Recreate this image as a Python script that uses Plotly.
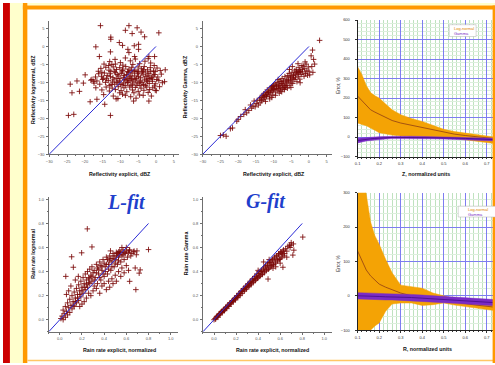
import plotly.graph_objects as go

W, H = 495, 365

# ---------------- data ----------------
# Panel 1: reflectivity explicit (x) vs lognormal fit (y), dBZ
refl_L_pts = [
    (-15.6, 5.8), (-7.6, 5.8), (-5.3, 5.2), (-8.6, 4.5), (-6.7, 3.6), (-4.2, 4.0), (-3.2, 2.7), (0.8, 3.8),
    (-12.7, 2.6), (-12.7, 2.0), (-10.3, 1.1), (-9.4, 0.3), (-7.9, -0.8), (-6.1, 0.2), (-4.9, 0.6), (-4.9, -0.8),
    (-16.9, -0.1), (-12.8, -1.5), (-15.9, -2.8), (-2.0, -2.8), (-6.0, -2.8), (-0.4, -2.8), (-7.6, -1.7),
    (2.6, -6.5), (-19.9, -7.9), (-22.2, -9.6), (-24.1, -10.5), (-20.4, -10.2), (-21.5, -12.5), (-23.6, -12.9),
    (-18.5, -15.4), (-16.6, -14.7), (-14.4, -16.1), (-24.6, -19.2), (-23.1, -18.9), (-12.8, -19.2),
    (-10.7, -14.5), (-6.3, -15.2), (-2.0, -15.2), (-3.6, -13.6), (-0.2, -12.2), (-18.0, -9.2), (-17.5, -9.7),
    (-15.2, -7.2), (-11.4, -4.9), (-13.3, -5.3),
    (-13.0, -4.2), (-11.5, -3.6), (-10.0, -4.5), (-8.6, -3.2), (-7.2, -4.0), (-5.8, -3.5), (-4.6, -4.8),
    (-3.1, -4.1), (-2.2, -3.4), (-12.4, -5.0), (-9.3, -5.2), (-6.5, -5.0), (-1.5, -4.6), (-14.6, -4.9), (-0.5, -5.3),
    (-15.5, -6.1), (-14.1, -5.8), (-13.2, -6.6), (-12.0, -5.7), (-11.1, -6.4), (-10.2, -5.9), (-9.4, -6.7),
    (-8.5, -5.6), (-7.6, -6.3), (-6.8, -5.8), (-5.9, -6.6), (-5.0, -5.7), (-4.1, -6.2), (-3.3, -5.6), (-2.4, -6.5),
    (-1.6, -5.9), (-0.7, -6.8), (0.3, -6.0), (1.2, -6.7), (-16.2, -6.9), (-12.7, -6.9), (-8.0, -7.0), (-3.8, -6.9),
    (-17.0, -8.5), (-16.1, -7.6), (-15.3, -8.3), (-14.5, -7.4), (-13.7, -8.1), (-12.9, -7.6), (-12.1, -8.7),
    (-11.4, -7.3), (-10.6, -8.2), (-9.8, -7.5), (-9.1, -8.6), (-8.3, -7.8), (-7.5, -8.5), (-6.7, -7.4), (-6.0, -8.2),
    (-5.2, -7.6), (-4.4, -8.7), (-3.6, -7.9), (-2.8, -8.4), (-2.0, -7.5), (-1.2, -8.6), (-0.4, -7.8), (0.5, -8.5),
    (1.5, -7.7), (-11.0, -8.9), (-7.9, -8.9), (-4.9, -8.4), (-1.7, -8.9),
    (-18.3, -9.4), (-17.4, -10.2), (-16.6, -9.6), (-15.8, -10.5), (-15.0, -9.2), (-14.2, -10.0), (-13.4, -9.5),
    (-12.6, -10.6), (-11.8, -9.3), (-11.0, -10.1), (-10.3, -9.6), (-9.5, -10.7), (-8.8, -9.2), (-8.0, -10.0),
    (-7.3, -9.5), (-6.6, -10.5), (-5.8, -9.3), (-5.1, -10.2), (-4.3, -9.6), (-3.5, -10.6), (-2.7, -9.4),
    (-1.9, -10.3), (-1.0, -9.7), (-0.2, -10.4), (0.8, -9.5), (1.8, -10.1), (-12.2, -9.9), (-9.1, -10.2),
    (-6.2, -9.9), (-3.9, -10.1), (-13.0, -10.9), (-7.0, -10.9), (2.4, -9.8),
    (-16.9, -11.5), (-15.2, -12.1), (-14.0, -11.3), (-13.1, -12.4), (-12.3, -11.6), (-11.4, -12.0), (-10.6, -11.2),
    (-9.8, -12.3), (-9.0, -11.5), (-8.2, -12.6), (-7.4, -11.3), (-6.6, -12.1), (-5.8, -11.4), (-5.0, -12.5),
    (-4.2, -11.6), (-3.4, -12.2), (-2.6, -11.3), (-1.8, -12.0), (-0.9, -11.5), (0.1, -12.3), (1.0, -11.2),
    (-10.2, -12.9), (-6.2, -12.9), (-2.2, -12.8), (-0.4, -11.0),
    (-14.7, -13.4), (-12.0, -13.8), (-9.4, -13.3), (-7.1, -14.0), (-4.6, -13.5), (-1.3, -13.8), (-11.2, -14.6),
    (-5.6, -14.4), (-8.6, -13.6),
    (-11.7, -6.9), (-10.9, -7.8), (-10.1, -8.9), (-9.6, -7.1), (-8.9, -8.1), (-8.4, -9.4), (-7.7, -7.2),
    (-7.1, -8.2), (-6.5, -9.1), (-6.1, -7.0), (-5.5, -8.9), (-4.9, -7.1), (-4.7, -9.9), (-4.0, -7.4), (-3.2, -9.1),
    (-3.0, -7.1), (-2.4, -9.8), (-2.3, -8.0), (-1.5, -7.0), (-1.1, -9.1), (-10.7, -9.9), (-9.9, -10.6),
    (-8.5, -10.9), (-7.8, -9.9), (-6.9, -9.0), (-5.4, -10.8), (-4.5, -10.9), (-3.0, -10.9), (-11.6, -10.5),
    (-12.8, -8.4), (-13.9, -9.0), (-14.8, -8.8), (-9.3, -6.3), (-7.0, -6.7), (-5.3, -6.9), (-3.5, -6.5),
    (-2.0, -9.0), (-0.8, -8.2), (0.2, -9.2), (-0.2, -7.0),
]

# Panel 2: reflectivity explicit (x) vs Gamma fit (y), dBZ
refl_G_pts = [
    (-25.0, -24.8), (-24.2, -24.6), (-23.4, -25.0), (-22.2, -22.9), (-21.6, -22.7), (-20.4, -20.8), (-20.0, -20.3),
    (-19.3, -19.5), (-18.4, -18.9), (-18.0, -17.6), (-17.6, -18.5), (-17.0, -17.8), (-16.5, -16.3), (-16.2, -17.2),
    (-15.8, -16.6), (-15.5, -15.2), (-15.2, -16.8), (-14.9, -15.9), (-14.6, -15.0), (-14.3, -16.3),
    (-14.0, -14.6), (-13.8, -15.7), (-13.6, -14.2), (-13.4, -15.1), (-13.2, -13.6), (-13.0, -14.8), (-12.8, -13.2),
    (-12.6, -14.3), (-12.4, -13.7), (-12.2, -12.8), (-12.0, -14.0), (-12.3, -15.3),
    (-11.8, -12.1), (-11.6, -13.2), (-11.4, -12.5), (-11.2, -13.8), (-11.0, -11.6), (-10.8, -12.9), (-10.6, -11.3),
    (-10.4, -12.4), (-10.2, -13.5), (-10.0, -10.9), (-10.1, -12.0), (-10.5, -14.2), (-11.1, -14.6),
    (-9.8, -11.6), (-9.6, -10.4), (-9.4, -12.7), (-9.2, -11.2), (-9.0, -10.0), (-8.8, -12.1), (-8.6, -10.8),
    (-8.4, -13.0), (-8.2, -9.7), (-8.0, -11.5), (-9.5, -13.6), (-8.7, -9.2), (-8.1, -12.4),
    (-7.8, -10.3), (-7.6, -8.9), (-7.4, -11.8), (-7.2, -9.6), (-7.0, -10.9), (-6.8, -8.4), (-6.6, -11.3),
    (-6.4, -9.3), (-6.2, -10.2), (-6.0, -8.1), (-7.7, -12.6), (-6.9, -12.0), (-6.1, -11.6),
    (-5.8, -9.6), (-5.6, -7.5), (-5.4, -10.8), (-5.2, -8.6), (-5.0, -9.9), (-4.8, -7.2), (-4.6, -10.3),
    (-4.4, -8.1), (-4.2, -9.2), (-4.0, -6.8), (-5.5, -6.4), (-4.7, -5.6), (-5.1, -11.4),
    (-3.8, -8.7), (-3.6, -6.4), (-3.4, -9.8), (-3.2, -7.4), (-3.0, -8.3), (-2.8, -5.9), (-2.6, -9.1),
    (-2.4, -6.9), (-2.2, -7.8), (-2.0, -5.3), (-3.1, -4.8), (-2.5, -10.1),
    (-1.8, -7.1), (-1.6, -5.5), (-1.4, -8.3), (-1.2, -6.2), (-1.0, -7.5), (-0.8, -4.9), (-0.6, -6.8),
    (-0.4, -8.0), (-0.2, -5.7), (0.0, -6.9), (-1.1, -4.3), (0.2, -7.9),
    (3.0, 1.7), (1.0, -1.0), (0.6, -2.6), (1.6, -4.9), (1.1, -7.2), (0.8, -5.6), (1.3, -3.6),
    (-11.5, -12.8), (-10.7, -12.2), (-9.9, -11.9), (-9.1, -11.7), (-8.3, -11.0), (-7.5, -10.5), (-6.7, -9.9),
    (-5.9, -9.1), (-5.1, -8.4), (-4.3, -7.9), (-3.5, -7.1), (-2.7, -6.8), (-12.9, -13.9), (-11.9, -13.4),
    (-10.3, -11.1), (-9.3, -10.7), (-8.5, -11.8), (-7.9, -9.7), (-7.1, -11.4), (-6.3, -10.8), (-5.3, -9.4),
    (-4.5, -8.9), (-3.7, -7.7), (-2.9, -7.2), (-1.9, -6.4),
]

# Panel 4: rain rate explicit (x) vs lognormal fit (y), normalized
rain_L_pts = [
    (0.01, 0.01), (0.02, 0.03), (0.03, 0.0), (0.04, 0.05), (0.03, 0.08), (0.05, 0.02), (0.06, 0.07), (0.05, 0.11),
    (0.07, 0.04), (0.08, 0.10), (0.07, 0.14), (0.09, 0.06), (0.10, 0.12), (0.09, 0.17), (0.11, 0.09), (0.12, 0.15),
    (0.11, 0.20), (0.13, 0.11), (0.14, 0.18), (0.13, 0.23), (0.15, 0.14), (0.16, 0.21), (0.15, 0.26), (0.17, 0.16),
    (0.18, 0.24), (0.17, 0.29), (0.19, 0.19), (0.20, 0.27), (0.19, 0.32), (0.21, 0.22), (0.22, 0.30), (0.21, 0.35),
    (0.23, 0.25), (0.24, 0.33), (0.23, 0.38), (0.25, 0.27), (0.26, 0.35), (0.25, 0.40), (0.27, 0.30), (0.28, 0.37),
    (0.27, 0.42), (0.29, 0.32), (0.30, 0.39), (0.29, 0.44), (0.31, 0.28), (0.32, 0.35), (0.31, 0.41), (0.33, 0.46),
    (0.34, 0.30), (0.35, 0.38), (0.34, 0.43), (0.36, 0.48), (0.37, 0.33), (0.38, 0.41), (0.37, 0.45), (0.39, 0.50),
    (0.40, 0.36), (0.41, 0.44), (0.40, 0.47), (0.42, 0.52), (0.43, 0.38), (0.44, 0.46), (0.43, 0.50), (0.45, 0.53),
    (0.46, 0.41), (0.47, 0.48), (0.46, 0.51), (0.48, 0.55), (0.49, 0.44), (0.50, 0.50), (0.49, 0.53), (0.51, 0.56),
    (0.52, 0.46), (0.53, 0.52), (0.52, 0.55), (0.54, 0.57), (0.55, 0.48), (0.56, 0.53), (0.55, 0.56), (0.57, 0.58),
    (0.58, 0.50), (0.59, 0.55), (0.60, 0.57), (0.61, 0.52), (0.62, 0.56), (0.63, 0.58), (0.64, 0.53), (0.65, 0.55),
    (0.67, 0.57), (0.69, 0.54),
    (0.30, 0.24), (0.33, 0.26), (0.36, 0.22), (0.38, 0.28), (0.40, 0.30), (0.42, 0.25), (0.44, 0.32), (0.45, 0.27),
    (0.47, 0.34), (0.48, 0.30), (0.50, 0.37), (0.51, 0.32), (0.53, 0.40), (0.55, 0.36), (0.56, 0.43), (0.58, 0.39),
    (0.60, 0.45), (0.62, 0.41), (0.26, 0.22), (0.24, 0.18), (0.22, 0.15), (0.20, 0.13), (0.18, 0.11), (0.28, 0.20),
    (0.248, 0.755), (0.29, 0.605), (0.197, 0.556), (0.107, 0.523), (0.122, 0.436), (0.054, 0.36), (0.167, 0.36),
    (0.14, 0.33), (0.10, 0.28), (0.08, 0.24), (0.06, 0.21),
    (0.80, 0.583), (0.725, 0.414), (0.716, 0.387), (0.68, 0.43), (0.63, 0.319), (0.686, 0.25), (0.457, 0.572),
    (0.531, 0.564), (0.666, 0.564), (0.696, 0.572), (0.63, 0.578), (0.60, 0.60), (0.56, 0.60),
    (0.27, 0.34), (0.29, 0.36), (0.31, 0.33), (0.33, 0.39), (0.35, 0.42), (0.36, 0.35), (0.38, 0.44), (0.39, 0.38),
    (0.41, 0.40), (0.42, 0.46), (0.44, 0.42), (0.45, 0.49), (0.47, 0.44), (0.48, 0.51), (0.50, 0.47), (0.51, 0.53),
    (0.53, 0.49), (0.54, 0.54), (0.57, 0.54), (0.58, 0.56), (0.22, 0.27), (0.24, 0.29), (0.26, 0.31), (0.20, 0.24),
    (0.18, 0.21), (0.16, 0.18), (0.14, 0.15), (0.12, 0.12),
]

# Panel 5: rain rate explicit (x) vs Gamma fit (y), normalized
rain_G_pts = [
    (0.00, 0.00), (0.01, 0.01), (0.02, 0.02), (0.03, 0.03), (0.04, 0.035), (0.05, 0.05), (0.06, 0.055), (0.07, 0.07),
    (0.08, 0.07), (0.09, 0.085), (0.10, 0.09), (0.11, 0.105), (0.12, 0.11), (0.13, 0.12), (0.14, 0.13), (0.15, 0.14),
    (0.16, 0.145), (0.17, 0.16), (0.18, 0.165), (0.19, 0.18), (0.20, 0.18), (0.21, 0.20), (0.22, 0.20), (0.23, 0.22),
    (0.24, 0.215), (0.25, 0.24), (0.26, 0.235), (0.27, 0.26), (0.28, 0.25), (0.29, 0.28), (0.30, 0.27), (0.31, 0.30),
    (0.32, 0.285), (0.33, 0.32), (0.34, 0.30), (0.35, 0.34), (0.36, 0.32), (0.37, 0.36), (0.38, 0.335), (0.39, 0.38),
    (0.40, 0.35), (0.41, 0.40), (0.42, 0.37), (0.43, 0.41), (0.44, 0.38), (0.45, 0.43), (0.46, 0.40), (0.47, 0.45),
    (0.48, 0.42), (0.49, 0.47), (0.50, 0.43), (0.51, 0.48), (0.52, 0.45), (0.53, 0.50), (0.54, 0.46), (0.55, 0.52),
    (0.56, 0.48), (0.57, 0.53), (0.58, 0.50), (0.59, 0.55), (0.60, 0.51), (0.61, 0.56), (0.62, 0.54), (0.63, 0.58),
    (0.64, 0.55), (0.65, 0.59), (0.66, 0.57), (0.67, 0.61), (0.69, 0.60), (0.70, 0.62), (0.72, 0.63),
    (0.015, 0.005), (0.035, 0.02), (0.055, 0.04), (0.075, 0.06), (0.095, 0.075), (0.115, 0.095), (0.135, 0.11),
    (0.155, 0.13), (0.175, 0.15), (0.195, 0.165), (0.215, 0.185), (0.235, 0.20), (0.255, 0.22), (0.275, 0.24),
    (0.295, 0.255), (0.315, 0.275), (0.335, 0.29), (0.355, 0.31), (0.375, 0.325), (0.395, 0.345), (0.415, 0.36),
    (0.435, 0.375), (0.455, 0.39), (0.475, 0.41), (0.495, 0.42), (0.515, 0.44), (0.535, 0.455), (0.555, 0.47),
    (0.575, 0.49), (0.595, 0.50), (0.615, 0.52), (0.635, 0.53),
    (0.025, 0.025), (0.045, 0.045), (0.065, 0.065), (0.085, 0.08), (0.105, 0.10), (0.125, 0.12), (0.145, 0.14),
    (0.165, 0.155), (0.185, 0.175), (0.205, 0.195), (0.225, 0.215), (0.245, 0.235), (0.265, 0.255), (0.285, 0.27),
    (0.305, 0.29), (0.325, 0.31), (0.345, 0.33), (0.365, 0.345), (0.385, 0.365), (0.405, 0.385), (0.425, 0.40),
    (0.445, 0.42), (0.465, 0.44), (0.485, 0.455), (0.505, 0.475), (0.525, 0.49), (0.545, 0.51), (0.565, 0.53),
    (0.585, 0.545), (0.605, 0.565), (0.625, 0.57),
    (0.805, 0.687), (0.724, 0.578), (0.715, 0.537), (0.625, 0.436), (0.535, 0.428), (0.49, 0.338), (0.685, 0.619),
    (0.70, 0.64), (0.60, 0.47), (0.56, 0.44), (0.66, 0.52), (0.45, 0.48), (0.50, 0.50), (0.40, 0.41),
]

diag_refl = [-30, 0]
diag_rain = [-0.1, 0.8]

# Error panels (x = normalized units)
err_x = [0.1, 0.12, 0.14, 0.16, 0.18, 0.2, 0.23, 0.26, 0.3, 0.35, 0.4, 0.45, 0.5, 0.55, 0.6, 0.65, 0.7, 0.735]

Z_logn_up = [360, 320, 265, 228, 212, 200, 170, 140, 115, 95, 80, 60, 40, 28, 20, 12, 5, 0]
Z_logn_mid = [210, 185, 160, 140, 128, 118, 100, 85, 72, 60, 48, 37, 25, 15, 8, 2, -4, -8]
Z_logn_lo = [72, 65, 58, 47, 35, 22, 15, 10, 5, 2, 0, -2, -4, -7, -12, -20, -28, -33]
Z_gam_up = [-6, -4, -2, 0, 1, 2, 3, 4, 4, 4, 3, 2, 1, 0, -2, -3, -5, -6]
Z_gam_mid = [-18, -14, -11, -9, -7, -5, -3, -2, -2, -2, -2, -3, -4, -5, -7, -9, -12, -13]
Z_gam_lo = [-30, -25, -20, -17, -15, -13, -10, -8, -8, -8, -8, -9, -10, -11, -13, -15, -18, -20]

R_logn_up = [420, 380, 295, 215, 175, 150, 106, 67, 31, 27, 22, 8, -1, -8, -14, -19, -23, -26]
R_logn_mid = [130, 100, 75, 58, 45, 34, 25, 17, 8, 0, -5, -10, -14, -18, -23, -27, -31, -33]
R_logn_lo = [-200, -160, -125, -100, -88, -79, -45, -24, -21, -21, -28, -26, -21, -27, -33, -37, -40, -43]
R_gam_up = [9, 9, 8, 8, 7, 7, 6, 6, 5, 4, 2, 0, -2, -4, -6, -8, -10, -11]
R_gam_mid = [0, 0, -1, -1, -2, -2, -3, -3, -4, -5, -7, -9, -11, -13, -15, -17, -19, -20]
R_gam_lo = [-9, -9, -10, -10, -11, -11, -12, -12, -13, -14, -16, -18, -20, -22, -24, -26, -28, -29]

# ---------------- figure ----------------
FONT = "Liberation Sans, Arial, sans-serif"
MARK = dict(symbol="cross-thin", size=4, line=dict(width=1, color="rgba(122,8,8,0.85)"))
DIAG = dict(color="#2a2ad6", width=1)
ORANGE = "#f4a305"
ORANGE_LINE = "#9c4a12"
PURPLE = "#7a2cc6"
PURPLE_LINE = "#4a0f8c"

fig = go.Figure()


def scatter_panel(pts, diag, ax):
    xs = [p[0] for p in pts]
    ys = [p[1] for p in pts]
    fig.add_trace(go.Scatter(x=xs, y=ys, mode="markers", marker=MARK,
                             xaxis="x" + ax, yaxis="y" + ax, hoverinfo="skip"))
    fig.add_trace(go.Scatter(x=diag, y=diag, mode="lines", line=DIAG,
                             xaxis="x" + ax, yaxis="y" + ax))


def band(xv, up, lo, mid, fill, line, ax):
    fig.add_trace(go.Scatter(x=list(xv) + list(xv)[::-1], y=list(up) + list(lo)[::-1],
                             fill="toself", fillcolor=fill, mode="lines",
                             line=dict(width=0.5, color=fill),
                             xaxis="x" + ax, yaxis="y" + ax))
    fig.add_trace(go.Scatter(x=xv, y=mid, mode="lines", line=dict(width=0.9, color=line),
                             xaxis="x" + ax, yaxis="y" + ax))


scatter_panel(refl_L_pts, diag_refl, "")
scatter_panel(refl_G_pts, diag_refl, "2")
band(err_x, Z_logn_up, Z_logn_lo, Z_logn_mid, ORANGE, ORANGE_LINE, "3")
band(err_x, Z_gam_up, Z_gam_lo, Z_gam_mid, PURPLE, PURPLE_LINE, "3")
scatter_panel(rain_L_pts, diag_rain, "4")
scatter_panel(rain_G_pts, diag_rain, "5")
band(err_x, R_logn_up, R_logn_lo, R_logn_mid, ORANGE, ORANGE_LINE, "6")
band(err_x, R_gam_up, R_gam_lo, R_gam_mid, PURPLE, PURPLE_LINE, "6")


def xd(a, b):
    return [a / W, b / W]


def yd(top, bottom):
    return [1 - bottom / H, 1 - top / H]


def sc_axis(dom, rng, dtick, mdtick, fmt=None, tick0=None):
    d = dict(domain=dom, range=rng, dtick=dtick, showline=True, linecolor="#6f6f6f", linewidth=0.8,
             ticks="outside", ticklen=2, tickwidth=0.6, tickcolor="#6f6f6f",
             tickfont=dict(size=4, color="#555", family=FONT), showgrid=False, zeroline=False,
             ticklabelstandoff=1,
             minor=dict(ticks="outside", ticklen=1.2, tickwidth=0.5, tickcolor="#6f6f6f", dtick=mdtick))
    if fmt:
        d["tickformat"] = fmt
    if tick0 is not None:
        d["tick0"] = tick0
    return d


def err_x_axis(dom, anchor):
    return dict(domain=dom, range=[0.0995, 0.735], tick0=0.1, dtick=0.1, tickformat=".1f",
                showline=True, linecolor="#222", linewidth=0.8, ticks="outside", ticklen=2,
                tickwidth=0.6, tickcolor="#333", tickfont=dict(size=4, color="#333", family=FONT),
                showgrid=True, gridcolor="#7d7df0", gridwidth=0.8, zeroline=False, anchor=anchor,
                ticklabelstandoff=1,
                minor=dict(dtick=0.02, showgrid=True, gridcolor="#bfe2bf", gridwidth=0.5,
                           ticks="outside", ticklen=1.2, tickcolor="#333"))


def err_y_axis(dom, rng, anchor):
    return dict(domain=dom, range=rng, dtick=100, showline=True, linecolor="#222", linewidth=0.8,
                ticks="outside", ticklen=2, tickwidth=0.6, tickcolor="#333",
                tickfont=dict(size=4, color="#333", family=FONT),
                showgrid=True, gridcolor="#7d7df0", gridwidth=0.8, zeroline=False, anchor=anchor,
                ticklabelstandoff=4,
                minor=dict(dtick=20, showgrid=True, gridcolor="#dcefdc", gridwidth=0.4))


P1x, P1y = xd(46.5, 177.2), yd(18.6, 153.3)
P2x = xd(201, 331)
P3x, P3y = xd(356.7, 494.3), yd(17.3, 155.7)
P4x, P4y = xd(46, 176.5), yd(196.7, 333.3)
P5x = xd(201.2, 331)
P6y = yd(192.3, 331.7)

layout_axes = dict(
    xaxis=dict(sc_axis(P1x, [-30, 6.5], 5, 2.5), anchor="y"),
    yaxis=dict(sc_axis(P1y, [-30, 7], 5, 2.5), anchor="x"),
    xaxis2=dict(sc_axis(P2x, [-30, 6.5], 5, 2.5), anchor="y2"),
    yaxis2=dict(sc_axis(P1y, [-30, 7], 5, 2.5), anchor="x2"),
    xaxis3=err_x_axis(P3x, "y3"),
    yaxis3=err_y_axis(P3y, [-100, 600], "x3"),
    xaxis4=dict(sc_axis(P4x, [-0.1, 1.07], 0.2, 0.1, ".1f", 0), anchor="y4"),
    yaxis4=dict(sc_axis(P4y, [-0.1, 1.02], 0.2, 0.1, ".1f", 0), anchor="x4"),
    xaxis5=dict(sc_axis(P5x, [-0.1, 1.07], 0.2, 0.1, ".1f", 0), anchor="y5"),
    yaxis5=dict(sc_axis(P4y, [-0.1, 1.02], 0.2, 0.1, ".1f", 0), anchor="x5"),
    xaxis6=err_x_axis(P3x, "y6"),
    yaxis6=err_y_axis(P6y, [-100, 300], "x6"),
)


def px(x):
    return x / W


def py(y):
    return 1 - y / H


def rect(x0, y0, x1, y1, color, layer="below", line=None):
    return dict(type="rect", xref="paper", yref="paper", x0=px(x0), x1=px(x1), y0=py(y1), y1=py(y0),
                fillcolor=color, line=line or dict(width=0), layer=layer)


shapes = [
    rect(0, 0, 7, 365, "#cc0000"),
    rect(7, 0, 20, 365, "#ffffcc"),
    rect(24.5, 0, 495, 2.5, "#ffffcc"),
    rect(20, 0, 24.5, 365, "#ff9900"),
    rect(20, 2.5, 495, 6.5, "#ff9900"),
    rect(24.5, 361.8, 495, 363.2, "#ffc766"),
    rect(492.6, 2.5, 495, 365, "#ff9900", layer="above"),
    rect(449, 22, 476, 34, "white", layer="above", line=dict(width=0.5, color="#b0b0b0")),
    rect(458, 206, 498, 217, "white", layer="above", line=dict(width=0.5, color="#b0b0b0")),
]


def ann(x, y, text, size=5.3, color="#111", angle=0, xanchor="center", family=FONT):
    return dict(xref="paper", yref="paper", x=px(x), y=py(y), text=text, showarrow=False,
                textangle=angle, xanchor=xanchor, yanchor="middle",
                font=dict(size=size, color=color, family=family))


annotations = [
    ann(29.5, 88, "<b>Reflectivity lognormal, dBZ</b>", angle=-90),
    ann(118, 173.3, "<b>Reflectivity explicit, dBZ</b>"),
    ann(182.5, 85, "<b>Reflectivity Gamma, dBZ</b>", angle=-90),
    ann(273, 173.3, "<b>Reflectivity explicit, dBZ</b>"),
    ann(337.5, 83.5, "Error, %", size=4.5, color="#333", angle=-90),
    ann(426, 173.3, "<b>Z, normalized units</b>"),
    ann(29.5, 254, "<b>Rain rate lognormal</b>", angle=-90),
    ann(117, 352.3, "<b>Rain rate explicit, normalized</b>"),
    ann(183.8, 254, "<b>Rain rate Gamma</b>", angle=-90),
    ann(271, 352.3, "<b>Rain rate explicit, normalized</b>"),
    ann(337.5, 264, "Error, %", size=4.5, color="#333", angle=-90),
    ann(427, 350.7, "<b>R, normalized units</b>"),
    ann(124.5, 202, "<b><i>L-fit</i></b>", size=20, color="#1f3fcc", family="Liberation Serif, Times New Roman, serif"),
    ann(265, 201, "<b><i>G-fit</i></b>", size=20, color="#1f3fcc", family="Liberation Serif, Times New Roman, serif"),
    ann(451.5, 26.3, "Log-normal", size=4, color="#e08600", xanchor="left"),
    ann(451.5, 31.2, "Gamma", size=4, color="#7a2cc6", xanchor="left"),
    ann(466, 209.3, "Log-normal", size=4, color="#e08600", xanchor="left"),
    ann(466, 214.3, "Gamma", size=4, color="#7a2cc6", xanchor="left"),
]

fig.update_layout(
    width=W, height=H, autosize=False,
    margin=dict(l=0, r=0, t=0, b=0, pad=0),
    paper_bgcolor="white", plot_bgcolor="white",
    showlegend=False, font=dict(family=FONT),
    shapes=shapes, annotations=annotations,
    **layout_axes,
)

fig.write_html(
    "out.html",
    config=dict(displayModeBar=False),
    post_script="document.body.style.margin='0px';document.body.style.padding='0px';"
                "document.documentElement.style.overflow='hidden';document.body.style.overflow='hidden';",
)
